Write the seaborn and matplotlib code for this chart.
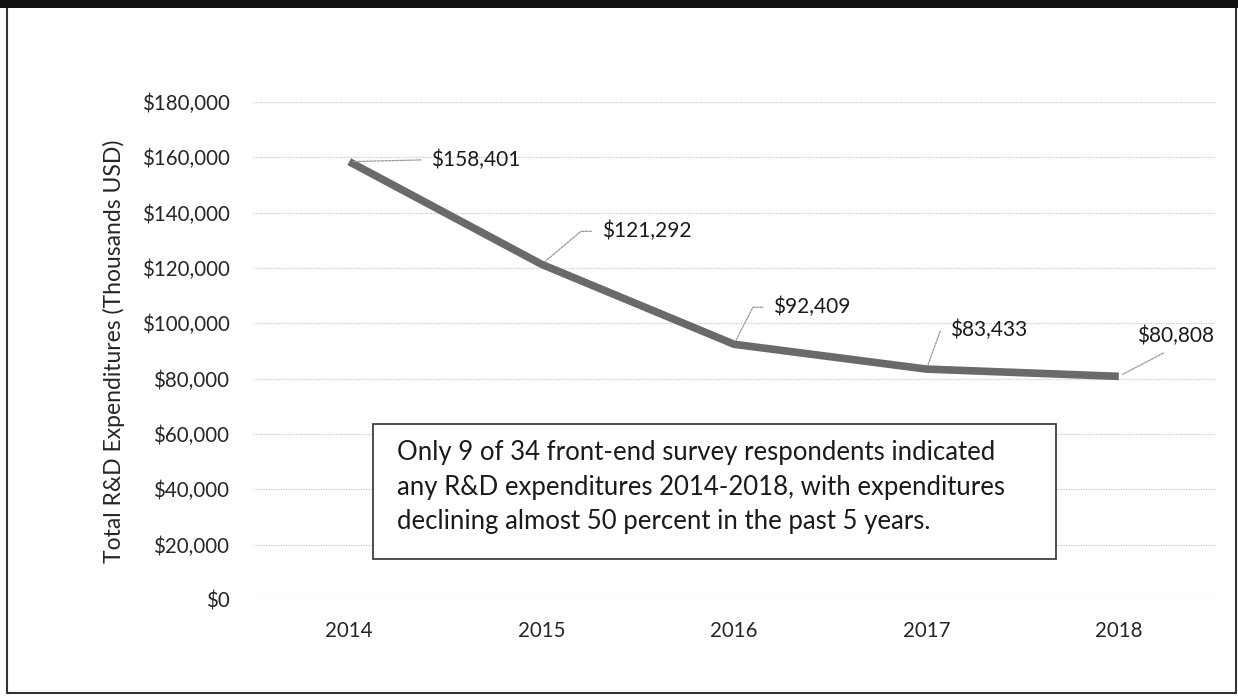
import numpy as np
import pandas as pd
import matplotlib.pyplot as plt
from matplotlib.patches import Rectangle
from matplotlib.ticker import FuncFormatter
import seaborn as sns

# ── Data ────────────────────────────────────────────────────────────────────
years = ["2014", "2015", "2016", "2017", "2018"]
spend = [158401, 121292, 92409, 83433, 80808]
y_ticks = [0, 20000, 40000, 60000, 80000, 100000, 120000, 140000, 160000, 180000]
note = ("Only 9 of 34 front-end survey respondents indicated\n"
        "any R&D expenditures 2014-2018, with expenditures\n"
        "declining almost 50 percent in the past 5 years.")

df = pd.DataFrame({"Year": years, "Spend": spend})

sns.set_theme(style="white")
plt.rcParams["font.family"] = ["Lato", "DejaVu Sans"]

fig = plt.figure(figsize=(12.38, 6.96), dpi=100)
ax = fig.add_axes([0.2044, 0.138, 0.777, 0.7156])

sns.lineplot(data=df, x="Year", y="Spend", ax=ax, color="#6a6a6a", lw=5.5,
             solid_capstyle="butt", zorder=3)

ax.set_xlim(-0.5, len(years) - 0.5)
ax.set_ylim(0, 180000)
ax.set_yticks(y_ticks)
ax.yaxis.set_major_formatter(FuncFormatter(lambda v, _: f"${v:,.0f}"))
ax.grid(axis="y", color="#c8c8c8", lw=0.9, ls=(0, (1, 1)))
for s in ax.spines.values():
    s.set_visible(False)
ax.tick_params(axis="both", length=0, labelsize=14.8, colors="#262626")
ax.tick_params(axis="y", pad=17)
ax.tick_params(axis="x", pad=15)
ax.set_xlabel("")
ax.set_ylabel("Total R&D Expenditures (Thousands USD)", fontsize=16.5,
              color="#262626", labelpad=12)

# data labels with leader lines (offsets in pixels)
offsets = [(82, 2), (60, 33), (39, 37), (24, 39), (57, 40)]
angles = [None, 40, 63, 70, None]
for i, (yr, v) in enumerate(zip(years, spend)):
    dx, dy = offsets[i]
    if i == 0:
        cs, ha, rel = "arc3", "left", (0, 0.5)
    elif i == len(years) - 1:
        cs, ha, rel = "arc3", "center", (0.5, 0)
    else:
        cs = f"angle,angleA=0,angleB={angles[i]},rad=0"
        ha, rel = "left", (0, 0.5)
    ax.annotate(f"${v:,.0f}", xy=(i, v), xytext=(dx, dy),
                textcoords="offset pixels", ha=ha, va="center",
                fontsize=15, color="#1a1a1a",
                arrowprops=dict(arrowstyle="-", color="#9a9a9a", lw=0.9,
                                ls=(0, (2, 1)), shrinkA=5, shrinkB=3,
                                relpos=rel, connectionstyle=cs))

# note box
ax.add_patch(Rectangle((0.1247, 0.0823), 0.710, 0.271, transform=ax.transAxes,
                       facecolor="white", edgecolor="#404040", lw=1.3, zorder=4))
ax.text(0.1497, 0.226, note, transform=ax.transAxes, ha="left", va="center",
        fontsize=18.5, linespacing=1.47, color="#1a1a1a", zorder=5)

# outer frame of the picture
fig.patches.append(Rectangle((0.006, 0.004), 0.992, 0.99, transform=fig.transFigure,
                             fill=False, edgecolor="#333333", lw=1.5))
fig.patches.append(Rectangle((0, 0.989), 1, 0.011, transform=fig.transFigure,
                             facecolor="#111111", edgecolor="none"))

fig.savefig("out.png", dpi=100, facecolor="white")
